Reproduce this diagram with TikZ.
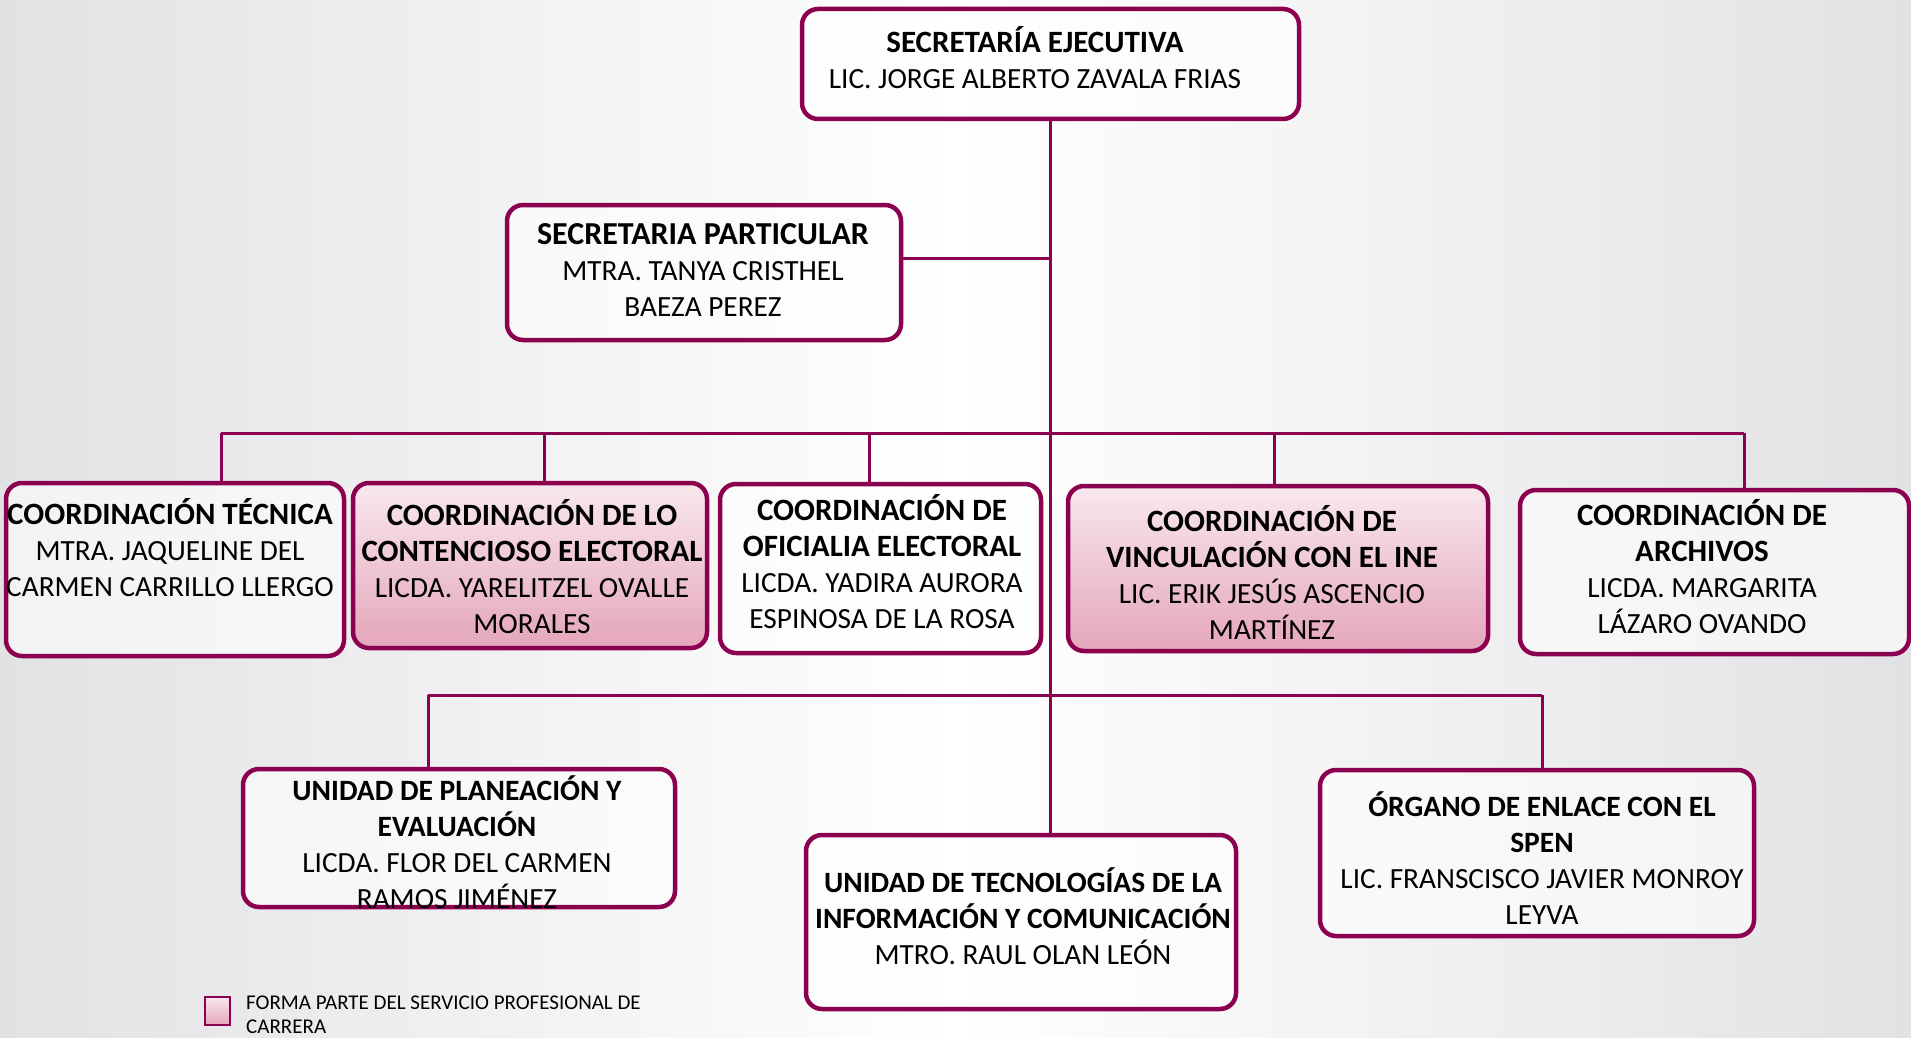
\documentclass[tikz,border=0pt]{standalone}
\usepackage{fontspec}
\setmainfont{Carlito}
\definecolor{bd}{RGB}{140,0,80}
\definecolor{bgc}{RGB}{226,226,229}
\definecolor{pktop}{RGB}{249,232,238}
\definecolor{pkbot}{RGB}{228,166,186}
\newcommand\B[1]{{\fontsize{31}{36}\selectfont\bfseries #1}}
\newcommand\Bs[1]{{\fontsize{29.5}{36}\selectfont\bfseries #1}}
\begin{document}
\begin{tikzpicture}[x=1pt,y=-1pt,
  box/.style={draw=bd, line width=4.5pt, rounded corners=16pt, fill=white, fill opacity=0.6, draw opacity=1},
  pinkbox/.style={draw=bd, line width=4.5pt, rounded corners=16pt, top color=pktop, bottom color=pkbot},
  txt/.style={align=center, font=\fontsize{29.3}{36}\selectfont, inner sep=0pt},
  conn/.style={draw=bd, line width=3pt}]
\useasboundingbox (0,0) rectangle (1911,1038);
\fill[left color=bgc, right color=bgc, middle color=white] (0,0) rectangle (1911,1038);

% connectors
\coordinate (spj) at (1050.5,258);
\coordinate (busL) at (221,433);
\coordinate (d2) at (544,433);
\coordinate (d3) at (869,433);
\coordinate (d4) at (1274,433);
\coordinate (busR) at (1744,433);
\coordinate (lbL) at (428,695);
\coordinate (lbR) at (1542,695);

% boxes
\node[box, minimum width=497, minimum height=110] (top) at (1050.5,64) {};
\node[box, minimum width=394, minimum height=135] (sp) at (704,272.5) {};
\node[box, minimum width=338, minimum height=173] (ct) at (175,569.5) {};
\node[pinkbox, minimum width=354, minimum height=165] (clc) at (530,565.5) {};
\node[box, minimum width=321, minimum height=169] (coe) at (880.5,568.5) {};
\node[pinkbox, minimum width=420, minimum height=165] (cvi) at (1278,568.5) {};
\node[box, minimum width=389, minimum height=164] (ca) at (1714.5,572) {};
\node[box, minimum width=432, minimum height=138] (upe) at (459,838) {};
\node[box, minimum width=430, minimum height=174] (utic) at (1021,922) {};
\node[box, minimum width=434, minimum height=166] (oes) at (1537,853) {};

\draw[conn] (top.south) -- (top.south |- utic.north);
\draw[conn] (sp.east |- spj) -- (spj);
\draw[conn] (busL) -- (busR);
\draw[conn] (busL) -- (busL |- ct.north);
\draw[conn] (d2) -- (d2 |- clc.north);
\draw[conn] (d3) -- (d3 |- coe.north);
\draw[conn] (d4) -- (d4 |- cvi.north);
\draw[conn] (busR) -- (busR |- ca.north);
\draw[conn] (lbL) -- (lbR);
\draw[conn] (lbL) -- (lbL |- upe.north);
\draw[conn] (lbR) -- (lbR |- oes.north);

% texts
\node[txt] (ttop) at (1035,57.5) {\B{SECRETARÍA EJECUTIVA}\\LIC. JORGE ALBERTO ZAVALA FRIAS};
\node[txt] (tsp) at (703,270) {{\fontsize{32}{36}\selectfont\bfseries SECRETARIA PARTICULAR}\\MTRA. TANYA CRISTHEL\\BAEZA PEREZ};
\node[txt] (tct) at (170,548) {\B{COORDINACIÓN TÉCNICA}\\MTRA. JAQUELINE DEL\\CARMEN CARRILLO LLERGO};
\node[txt] (tclc) at (532,567) {\B{COORDINACIÓN DE LO}\\\B{CONTENCIOSO ELECTORAL}\\LICDA. YARELITZEL OVALLE\\MORALES};
\node[txt] (tcoe) at (882,562) {\B{COORDINACIÓN DE}\\\B{OFICIALIA ELECTORAL}\\LICDA. YADIRA AURORA\\ESPINOSA DE LA ROSA};
\node[txt] (tcvi) at (1272,572) {\B{COORDINACIÓN DE}\\\B{VINCULACIÓN CON EL INE}\\LIC. ERIK JESÚS ASCENCIO\\MARTÍNEZ};
\node[txt] (tca) at (1702,567) {\B{COORDINACIÓN DE}\\\B{ARCHIVOS}\\LICDA. MARGARITA\\LÁZARO OVANDO};
\node[txt] (tupe) at (457,842) {\Bs{UNIDAD DE PLANEACIÓN Y}\\\Bs{EVALUACIÓN}\\LICDA. FLOR DEL CARMEN\\RAMOS JIMÉNEZ};
\node[txt] (tutic) at (1023,916) {\Bs{UNIDAD DE TECNOLOGÍAS DE LA}\\\Bs{INFORMACIÓN Y COMUNICACIÓN}\\MTRO. RAUL OLAN LEÓN};
\node[txt] (toes) at (1542,858) {\Bs{ÓRGANO DE ENLACE CON EL}\\\Bs{SPEN}\\LIC. FRANSCISCO JAVIER MONROY\\LEYVA};

% legend
\node[pinkbox, line width=2.5pt, rounded corners=0pt, minimum width=25, minimum height=28] (leg) at (217.5,1011) {};
\node[anchor=west, align=left, inner sep=0pt, font=\fontsize{21}{24}\selectfont] (tleg) at (246,1015) {FORMA PARTE DEL SERVICIO PROFESIONAL DE\\CARRERA};
\end{tikzpicture}
\end{document}
